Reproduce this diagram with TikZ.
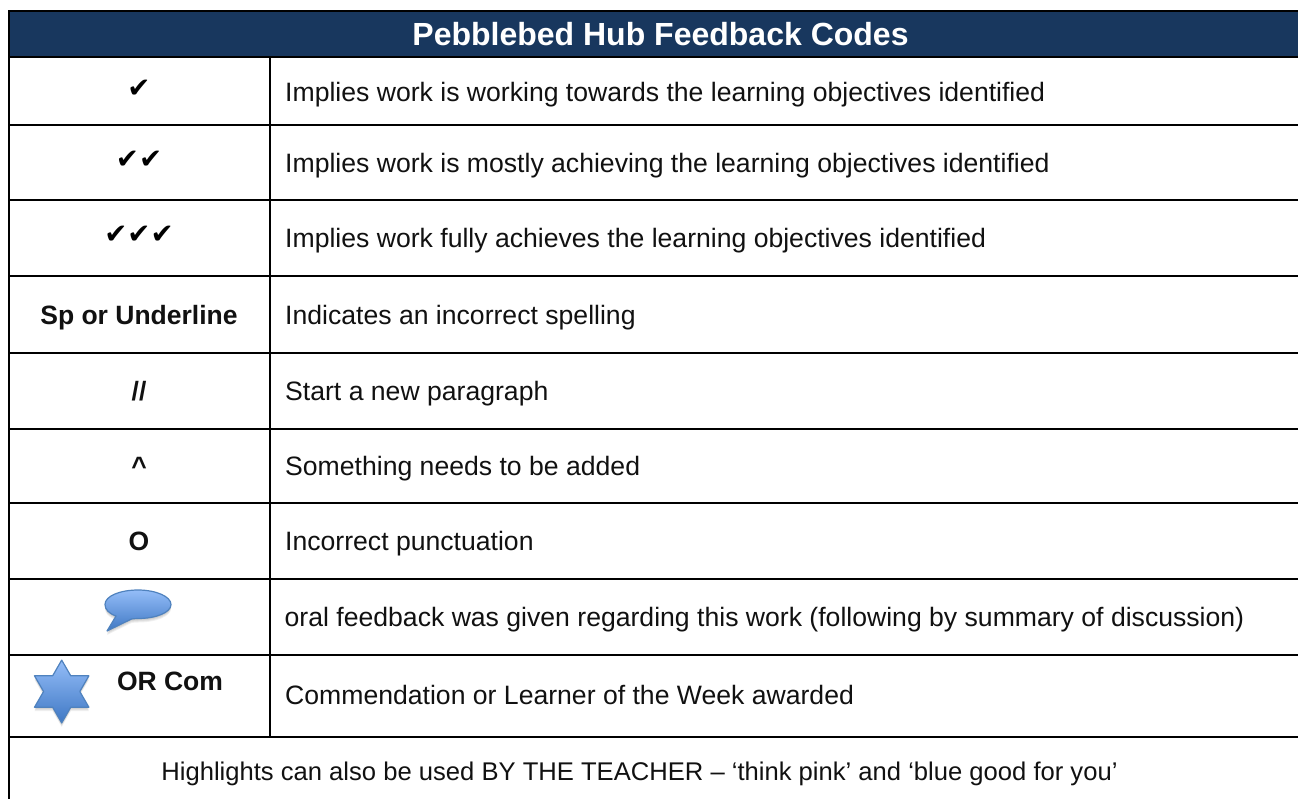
\documentclass[tikz,border=0pt]{standalone}
\usepackage{fontspec}
\setmainfont{Liberation Sans}
\newfontfamily\symfont{DejaVu Sans}
\definecolor{headbg}{HTML}{18375E}
\definecolor{ink}{HTML}{111111}
\definecolor{gridc}{HTML}{000000}
\definecolor{shapetop}{HTML}{94BDF8}
\definecolor{shapebot}{HTML}{3F78C4}
\definecolor{shapeline}{HTML}{4F82BE}
\tikzset{
  grid line/.style={draw=gridc,line width=2.2pt,line cap=rect},
  body/.style={anchor=base west,inner sep=0pt,font=\fontsize{26.6}{30}\selectfont,text=ink},
  foottext/.style={anchor=base,inner sep=0pt,font=\fontsize{25.6}{30}\selectfont,text=ink},
  codetext/.style={anchor=base,inner sep=0pt,font=\fontsize{26.5}{30}\selectfont\bfseries,text=ink},
  tick/.style={anchor=base,inner sep=0pt,font=\fontsize{27.6}{30}\symfont,text=black},
  headtext/.style={anchor=base,inner sep=0pt,font=\fontsize{32}{36}\selectfont\bfseries,text=white},
  iconfill/.style={top color=shapetop,bottom color=shapebot,draw=shapeline,line width=1.2pt,line join=round},
  iconshadow/.style={fill=black,fill opacity=0.06,draw=none}
}
\newcommand{\bubblepath}{(105,604.5) .. controls (105,596) and (120,590) .. (138,590) .. controls (156,590) and (171,596.5) .. (171,604.5) .. controls (171,612.5) and (156,618.5) .. (138,618.5) .. controls (135,618.5) and (133,618.8) .. (131.5,619) -- (107,631) -- (116,616) .. controls (109,613.5) and (105,609.5) .. (105,604.5) -- cycle}
\newcommand{\starpath}{(0,-31.4) -- (9.05,-15.7) -- (27.2,-15.7) -- (18.1,0) -- (27.2,15.7) -- (9.05,15.7) -- (0,31.4) -- (-9.05,15.7) -- (-27.2,15.7) -- (-18.1,0) -- (-27.2,-15.7) -- (-9.05,-15.7) -- cycle}
\begin{document}
\begin{tikzpicture}[x=1pt,y=-1pt]
\useasboundingbox (0,0) rectangle (1298,798);
\fill[white] (0,0) rectangle (1298,798);
\fill[headbg] (9,11) rectangle (1298,57);
% grid
\foreach \yy in {11,57,125,200,276,353,429,503,579,655,737}
  \draw[grid line] (9,\yy) -- (1299,\yy);
\draw[grid line] (9,11) -- (9,799);
\draw[grid line] (270,57) -- (270,737);
% title
\node[headtext] (title) at (660.5,45.5) {Pebblebed Hub Feedback Codes};
% codes
\node[tick] (c1) at (139,97.5) {✔};
\node[tick] (c2) at (139,168.5) {✔✔};
\node[tick] (c3) at (139,243.5) {✔✔✔};
\node[codetext] (c4) at (139,324) {Sp or Underline};
\node[codetext] (c5) at (139,400.6) {//};
\node[codetext] (c6) at (139,475.6) {\^{}};
\node[codetext] (c7) at (139,550.5) {O};
\node[codetext] (c9) at (170,690.7) {OR Com};
% descriptions
\node[body] (d1) at (285,101.3) {Implies work is working towards the learning objectives identified};
\node[body] (d2) at (285,172.3) {Implies work is mostly achieving the learning objectives identified};
\node[body] (d3) at (285,247.3) {Implies work fully achieves the learning objectives identified};
\node[body] (d4) at (285,324) {Indicates an incorrect spelling};
\node[body] (d5) at (285,400.6) {Start a new paragraph};
\node[body] (d6) at (285,475.6) {Something needs to be added};
\node[body] (d7) at (285,550.5) {Incorrect punctuation};
\node[body] (d8) at (284.5,626.3) {oral feedback was given regarding this work (following by summary of discussion)};
\node[body] (d9) at (285,704.5) {Commendation or Learner of the Week awarded};
\node[foottext] (foot) at (639.5,780.5) {Highlights can also be used BY THE TEACHER – ‘think pink’ and ‘blue good for you’};
% speech bubble
\foreach \dd in {1,2,3,4}{
  \path[iconshadow,shift={(0,\dd)}] \bubblepath;
}
\path[iconfill] \bubblepath;
% star
\foreach \dd in {1,2,3,4}{
  \path[iconshadow,shift={(61.7,691.5+\dd)}] \starpath;
}
\path[iconfill,shift={(61.7,691.5)}] \starpath;
\end{tikzpicture}
\end{document}
